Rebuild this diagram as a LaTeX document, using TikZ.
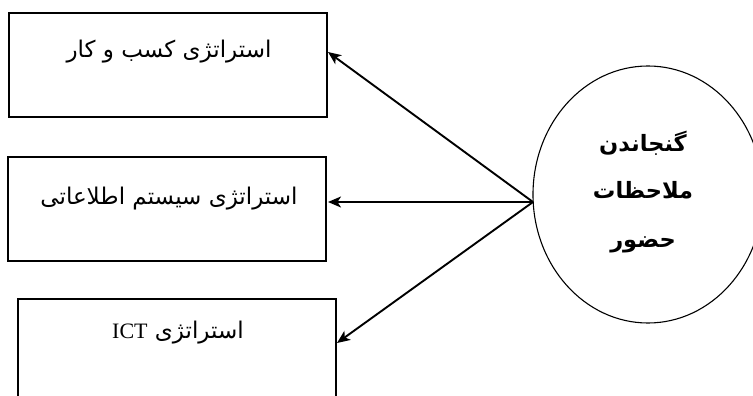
\documentclass[tikz,border=0pt]{standalone}
\usepackage{fontspec}
\usetikzlibrary{arrows.meta,shapes.geometric}
\TeXXeTstate=1
\newfontfamily\arabicfont[Script=Arabic]{DejaVu Sans}
\newfontfamily\latinserif{Liberation Serif}
\tikzset{
  box/.style={draw, line width=1.6pt, rectangle, minimum width=318pt, minimum height=104pt, inner sep=0pt, anchor=north west},
  boxtext/.style={font=\arabicfont\fontsize{23}{25}\selectfont, inner sep=0pt},
  hubtext/.style={font=\arabicfont\bfseries\fontsize{22.5}{25}\selectfont, inner sep=0pt},
  arr/.style={line width=1.9pt, -{Stealth[length=13pt,width=11pt,inset=3.5pt]}},
}
\begin{document}
\begin{tikzpicture}[x=1pt,y=-1pt]
  \clip (0,0) rectangle (753,396);
  \fill[white] (0,0) rectangle (753,396);

  % strategy boxes
  \node[box] (b1) at (8,12) {};
  \node[box] (b2) at (7,156) {};
  \node[box] (b3) at (17,298) {};

  \node[boxtext] (t1) at (169,52) {\beginR استراتژی کسب و کار\endR};
  \node[boxtext] (t2) at (169,199) {\beginR استراتژی سیستم اطلاعاتی\endR};
  \node[boxtext] (t3) at (178,333) {\beginR استراتژی \beginL{\latinserif\fontsize{22}{25}\selectfont ICT}\endL\endR};

  % central ellipse
  \node[draw, line width=1.1pt, ellipse, minimum width=230pt, minimum height=257pt, inner sep=0pt] (hub) at (648,194.5) {};
  \node[hubtext] (h1) at (643,143) {\beginR گنجاندن\endR};
  \node[hubtext] (h2) at (643,190) {\beginR ملاحظات\endR};
  \node[hubtext] (h3) at (643,245) {\beginR حضور\endR};

  % arrows from the ellipse to the boxes
  \coordinate (src) at (533,202);
  \coordinate (e1) at (328,52);
  \coordinate (e2) at (328,202);
  \coordinate (e3) at (337,343);
  \draw[arr] (src) -- (e1);
  \draw[arr] (src) -- (e2);
  \draw[arr] (src) -- (e3);
\end{tikzpicture}
\end{document}
